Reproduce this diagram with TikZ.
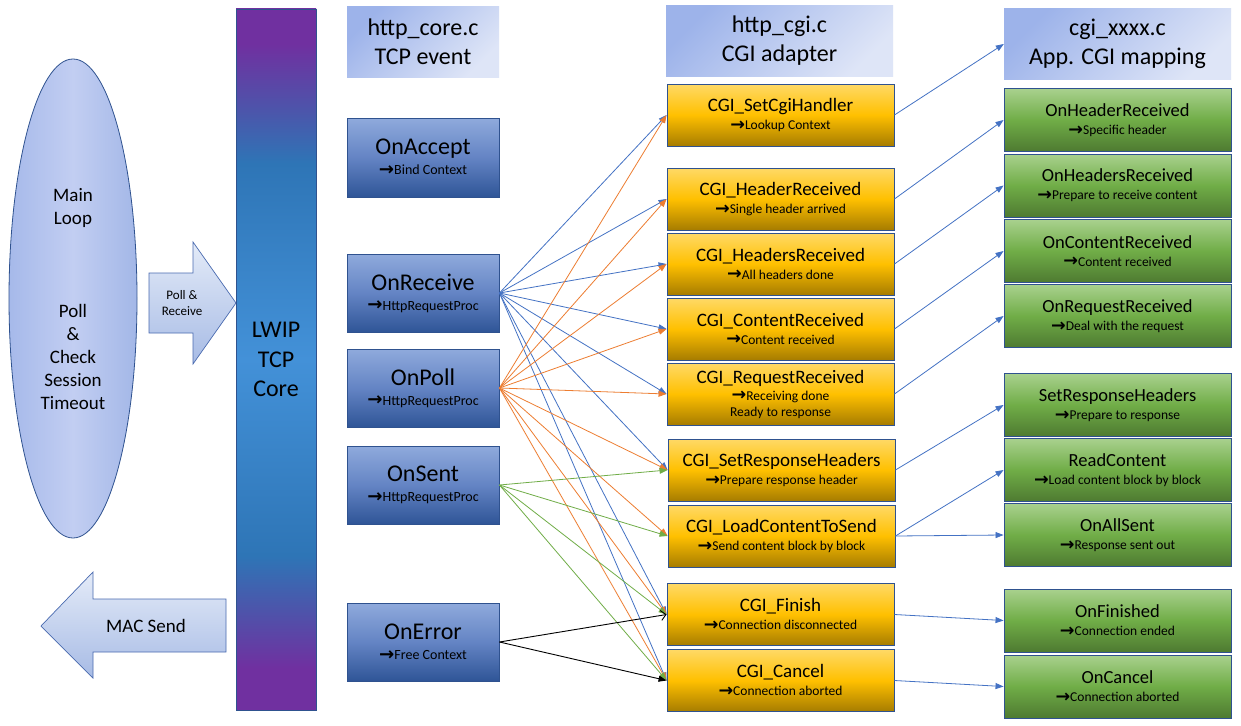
\documentclass[tikz,border=0pt]{standalone}
\usepackage{fontspec}
\usepackage{graphicx}
\setmainfont{Carlito}
\newfontfamily\arrowfont{DejaVu Sans}
\usetikzlibrary{arrows.meta,shapes.geometric}
\definecolor{cblue}{HTML}{4472C4}
\definecolor{corange}{HTML}{ED7D31}
\definecolor{cgreen}{HTML}{70AD47}
\definecolor{bord}{HTML}{2F528F}
\definecolor{bA}{HTML}{8FAADC}
\definecolor{bB}{HTML}{6484C4}
\definecolor{bC}{HTML}{2F5597}
\definecolor{oA}{HTML}{FFD966}
\definecolor{oB}{HTML}{FFC000}
\definecolor{oC}{HTML}{A67C00}
\definecolor{gA}{HTML}{A9D18E}
\definecolor{gB}{HTML}{70AD47}
\definecolor{gC}{HTML}{4E7A31}
\definecolor{hA}{HTML}{9DB3EA}
\definecolor{hB}{HTML}{DEE5F7}
\definecolor{eA}{HTML}{A6B9EA}
\definecolor{eB}{HTML}{C2CEF2}
\definecolor{eC}{HTML}{A3B7E7}
\definecolor{aA}{HTML}{E4EBF8}
\definecolor{aB}{HTML}{A7BBE5}
\definecolor{aBord}{HTML}{4A6BB0}
\definecolor{lpurple}{HTML}{7030A0}
\definecolor{lmid}{HTML}{4E53AA}
\definecolor{lblue}{HTML}{2E75B6}
\definecolor{llight}{HTML}{4391D8}
\pgfdeclareverticalshading{lwipshade}{100bp}{color(0bp)=(lpurple); color(28bp)=(lpurple); color(32bp)=(lmid); color(36bp)=(lblue); color(50bp)=(llight); color(64bp)=(lblue); color(68bp)=(lmid); color(72.5bp)=(lpurple); color(100bp)=(lpurple)}
\newcommand\myarr{\raisebox{-0.05em}{\scalebox{1.3}{\arrowfont\bfseries →}}}
\begin{document}
\begin{tikzpicture}[x=1pt,y=-1pt,
  hdr/.style={minimum width=227pt, minimum height=70pt, inner sep=0pt,
    top color=hA, bottom color=hB, shading angle=45, align=center,
    font=\fontsize{24}{29}\selectfont},
  bbox/.style={draw=bord, line width=0.9pt, minimum width=152pt, minimum height=78pt,
    inner sep=0pt, top color=bA, bottom color=bC, middle color=bB, align=center,
    font=\fontsize{14}{20}\selectfont},
  obox/.style={draw=bord, line width=0.9pt, minimum width=227pt, minimum height=62pt,
    inner sep=0pt, top color=oA, bottom color=oC, middle color=oB, align=center,
    font=\fontsize{13.5}{18}\selectfont},
  gbox/.style={draw=bord, line width=0.9pt, minimum width=227pt, minimum height=63pt,
    inner sep=0pt, top color=gA, bottom color=gC, middle color=gB, align=center,
    font=\fontsize{13.5}{18}\selectfont},
  bl/.style={draw=cblue, line width=0.8pt, -{Triangle[length=8pt,width=6pt]}},
  orl/.style={draw=corange, line width=0.8pt, -{Triangle[length=8pt,width=6pt]}},
  grl/.style={draw=cgreen, line width=0.8pt, -{Triangle[length=8pt,width=6pt]}},
  bkl/.style={draw=black, line width=0.9pt, -{Triangle[length=8pt,width=6pt]}},
  bko/.style={draw=black, line width=0.9pt, -{Straight Barb[length=5pt,width=10pt]}},
  blockarrow/.style={draw=aBord, line width=0.7pt, top color=aA, bottom color=aB}
]
\useasboundingbox (0,0) rectangle (1241,725);
\fill[white] (0,0) rectangle (1241,725);

% main loop ellipse
\node[ellipse, draw=bord, line width=0.8pt, minimum width=128pt, minimum height=479pt,
  inner sep=0pt, left color=eA, right color=eC, middle color=eB] (loop) at (73,298.5) {};
\node[align=center, font=\fontsize{19}{23}\selectfont] (looptxt) at (73,208) {Main\\Loop};
\node[align=center, font=\fontsize{19}{23}\selectfont] (polltxt) at (73,357) {Poll\\\&\\Check\\Session\\Timeout};

% block arrows
\path[blockarrow] (149,273) -- (193,273) -- (193,242) -- (236,303) -- (193,364) -- (193,333) -- (149,333) -- cycle;
\node[align=center, font=\fontsize{13}{16}\selectfont] (pr) at (182,303) {Poll \&\\Receive};
\path[blockarrow] (41,626) -- (93,572) -- (93,599) -- (226,599) -- (226,652) -- (93,652) -- (93,678) -- cycle;
\node[font=\fontsize{19}{23}\selectfont] (mac) at (146,626) {MAC Send};

% LWIP bar
\node[draw=bord, line width=0.8pt, minimum width=80pt, minimum height=701pt, inner sep=0pt,
  shading=lwipshade, align=center, font=\fontsize{24}{29.5}\selectfont] (lwip) at (276,359.5) {LWIP\\TCP\\Core};

% headers
\node[hdr, minimum width=152pt] (h1) at (423,42) {http\_core.c\\TCP event};
\node[hdr] (h2) at (779.5,41) {http\_cgi.c\\CGI adapter};
\node[hdr] (h3) at (1117.5,44) {cgi\_xxxx.c\\App. CGI mapping};

% http_core boxes
\node[bbox, minimum height=79pt] (acc) at (423,157.5) {{\fontsize{24}{24}\selectfont OnAccept}\\\myarr Bind Context};
\node[bbox] (recv) at (423,293) {{\fontsize{24}{24}\selectfont OnReceive}\\\myarr HttpRequestProc};
\node[bbox] (poll) at (423,388) {{\fontsize{24}{24}\selectfont OnPoll}\\\myarr HttpRequestProc};
\node[bbox] (sent) at (423,485) {{\fontsize{24}{24}\selectfont OnSent}\\\myarr HttpRequestProc};
\node[bbox] (err) at (423,642) {{\fontsize{24}{24}\selectfont OnError}\\\myarr Free Context};

% http_cgi boxes
\node[obox] (c1) at (780.5,115) {{\fontsize{19}{19}\selectfont CGI\_SetCgiHandler}\\\myarr Lookup Context};
\node[obox] (c2) at (780.5,199) {{\fontsize{19}{19}\selectfont CGI\_HeaderReceived}\\\myarr Single header arrived};
\node[obox] (c3) at (780.5,264) {{\fontsize{19}{19}\selectfont CGI\_HeadersReceived}\\\myarr All headers done};
\node[obox] (c4) at (780.5,329) {{\fontsize{19}{19}\selectfont CGI\_ContentReceived}\\\myarr Content received};
\node[obox, font=\fontsize{13.5}{17}\selectfont] (c5) at (780.5,394) {{\fontsize{19}{19}\selectfont CGI\_RequestReceived}\\\myarr Receiving done\\[-1pt]Ready to response};
\node[obox] (c6) at (781.5,470) {{\fontsize{19}{19}\selectfont CGI\_SetResponseHeaders}\\\myarr Prepare response header};
\node[obox] (c7) at (781.5,536) {{\fontsize{19}{19}\selectfont CGI\_LoadContentToSend}\\\myarr Send content block by block};
\node[obox] (c8) at (780.5,614.5) {{\fontsize{19}{19}\selectfont CGI\_Finish}\\\myarr Connection disconnected};
\node[obox] (c9) at (780.5,680.5) {{\fontsize{19}{19}\selectfont CGI\_Cancel}\\\myarr Connection aborted};

% cgi_xxxx boxes
\node[gbox] (g1) at (1117.5,120) {{\fontsize{18.5}{19}\selectfont OnHeaderReceived}\\\myarr Specific header};
\node[gbox] (g2) at (1117.5,185.5) {{\fontsize{18.5}{19}\selectfont OnHeadersReceived}\\\myarr Prepare to receive content};
\node[gbox] (g3) at (1117.5,251) {{\fontsize{18.5}{19}\selectfont OnContentReceived}\\\myarr Content received};
\node[gbox] (g4) at (1117.5,316) {{\fontsize{18.5}{19}\selectfont OnRequestReceived}\\\myarr Deal with the request};
\node[gbox] (g5) at (1117.5,405) {{\fontsize{18.5}{19}\selectfont SetResponseHeaders}\\\myarr Prepare to response};
\node[gbox] (g6) at (1117.5,470) {{\fontsize{18.5}{19}\selectfont ReadContent}\\\myarr Load content block by block};
\node[gbox] (g7) at (1117.5,535) {{\fontsize{18.5}{19}\selectfont OnAllSent}\\\myarr Response sent out};
\node[gbox] (g8) at (1117.5,620.5) {{\fontsize{18.5}{19}\selectfont OnFinished}\\\myarr Connection ended};
\node[gbox] (g9) at (1117.5,686.5) {{\fontsize{18.5}{19}\selectfont OnCancel}\\\myarr Connection aborted};

% OnReceive connectors
\foreach \t in {c1,c2,c3,c4,c5,c6,c8,c9} \draw[bl] (recv.east) -- (\t.west);
% OnPoll connectors
\foreach \t in {c1,c2,c3,c4,c5,c6,c7,c8,c9} \draw[orl] (poll.east) -- (\t.west);
% OnSent connectors
\foreach \t in {c6,c7,c8,c9} \draw[grl] (sent.east) -- (\t.west);
% OnError connectors
\draw[bko] (err.east) -- (c8.west);
\draw[bkl] (err.east) -- (c9.west);

% right connectors
\draw[bl] (c1.east) -- (h3.west);
\draw[bl] (c2.east) -- (g1.west);
\draw[bl] (c3.east) -- (g2.west);
\draw[bl] (c4.east) -- (g3.west);
\draw[bl] (c5.east) -- (g4.west);
\draw[bl] (c6.east) -- (g5.west);
\draw[bl] (c7.east) -- (g6.west);
\draw[bl] (c7.east) -- (g7.west);
\draw[bl] (c8.east) -- (g8.west);
\draw[bl] (c9.east) -- (g9.west);
\end{tikzpicture}
\end{document}
